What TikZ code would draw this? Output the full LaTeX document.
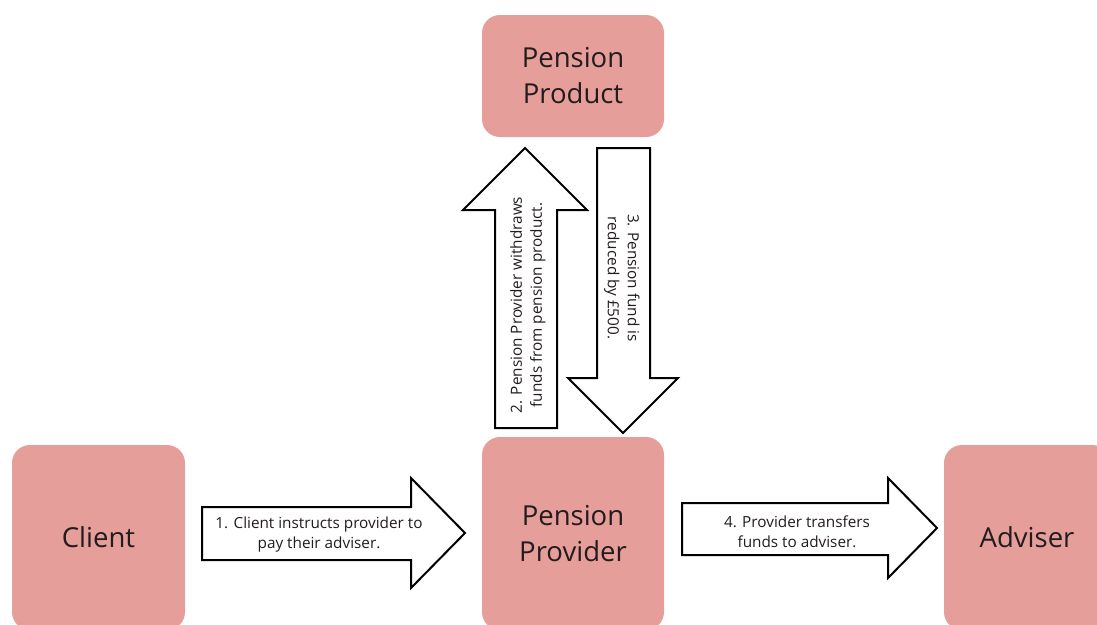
\documentclass[tikz,border=0pt]{standalone}
\usepackage{fontspec}
\setmainfont{Open Sans}
\definecolor{boxpink}{RGB}{230,158,154}
\definecolor{txt}{RGB}{35,28,30}
\begin{document}
\begin{tikzpicture}[x=1pt,y=-1pt,
  box/.style={fill=boxpink, draw=none, rounded corners=18pt, text=txt, align=center,
    font=\fontsize{27.5}{36}\selectfont, inner sep=0pt},
  blk/.style={draw=black, line width=2pt, fill=white, line join=miter},
  albl/.style={text=txt, align=center, font=\fontsize{15.3}{20}\selectfont, inner sep=0pt}]
\useasboundingbox (0,0) rectangle (1097,624);
\clip (0,0) rectangle (1097,624);
\fill[white] (0,0) rectangle (1097,624);
% boxes
\node[box, minimum width=173, minimum height=185] (client) at (98.5,537.5) {Client};
\node[box, minimum width=182, minimum height=122] (product) at (573,76) {Pension\\Product};
\node[box, minimum width=182, minimum height=193] (provider) at (573,533.5) {Pension\\Provider};
\node[box, minimum width=166, minimum height=185] (adviser) at (1027,537.5) {Adviser};
% block arrows
\draw[blk] (202,507) -- (411,507) -- (411,478) -- (465,533) -- (411,588) -- (411,560) -- (202,560) -- cycle;
\draw[blk] (682,503) -- (888,503) -- (888,478) -- (937,528) -- (888,578) -- (888,555) -- (682,555) -- cycle;
\draw[blk] (495,428) -- (495,210) -- (463,210) -- (525,148) -- (587,210) -- (557,210) -- (557,428) -- cycle;
\draw[blk] (597,148) -- (650,148) -- (650,378) -- (678,378) -- (623,433) -- (568,378) -- (597,378) -- cycle;
% labels
\node[albl] (l1) at (319,535) {1. Client instructs provider to\\pay their adviser.};
\node[albl] (l4) at (797,532) {4. Provider transfers\\funds to adviser.};
\node[albl, rotate=90] (l2) at (528,305) {2. Pension Provider withdraws\\funds from pension product.};
\node[albl, rotate=-90] (l3) at (622,278) {3. Pension fund is\\reduced by £500.};
\end{tikzpicture}
\end{document}
